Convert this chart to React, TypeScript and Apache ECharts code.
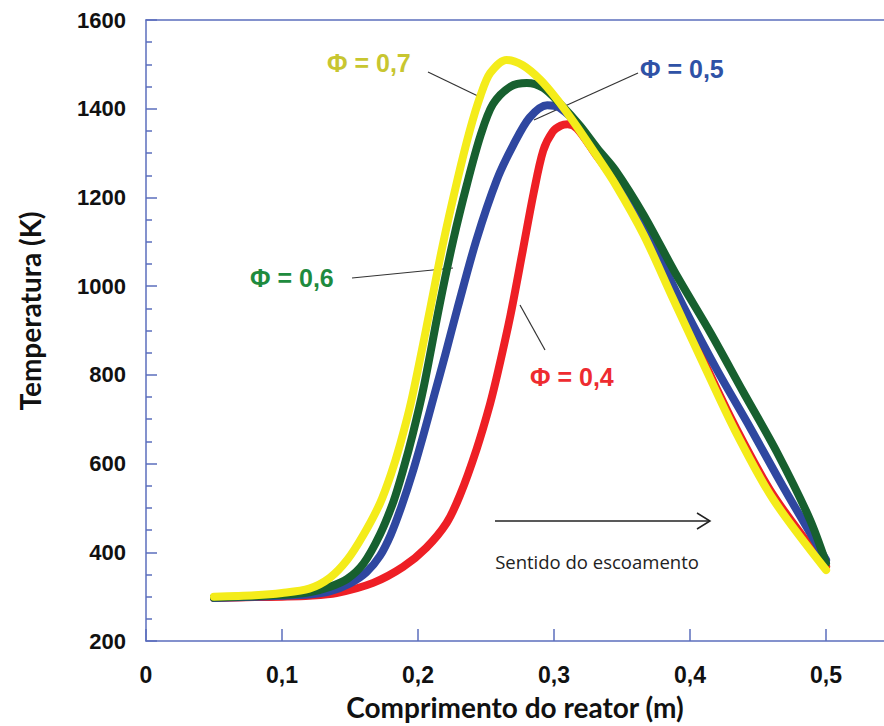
import React, { useEffect, useRef } from "react";
import * as echarts from "echarts";

// Φ = 0,7 (yellow)
const phi07X = [0.05, 0.08, 0.10, 0.12, 0.135, 0.148, 0.16, 0.172, 0.18, 0.187, 0.195, 0.209, 0.218, 0.229, 0.238, 0.246, 0.253, 0.265, 0.277, 0.290, 0.302, 0.314, 0.330, 0.345, 0.366, 0.387, 0.409, 0.433, 0.461, 0.500];
const phi07T = [300, 303, 308, 318, 342, 383, 440, 510, 575, 645, 740, 950, 1090, 1240, 1350, 1430, 1480, 1510, 1498, 1465, 1422, 1372, 1300, 1230, 1115, 975, 830, 675, 520, 360];

// Φ = 0,6 (green)
const phi06X = [0.05, 0.08, 0.10, 0.12, 0.135, 0.148, 0.16, 0.172, 0.182, 0.189, 0.196, 0.204, 0.216, 0.226, 0.236, 0.246, 0.255, 0.268, 0.280, 0.292, 0.304, 0.319, 0.332, 0.345, 0.366, 0.390, 0.415, 0.439, 0.464, 0.488, 0.500];
const phi06T = [298, 301, 304, 310, 322, 340, 375, 440, 515, 585, 665, 770, 960, 1105, 1230, 1340, 1410, 1450, 1458, 1447, 1413, 1362, 1310, 1262, 1160, 1025, 895, 762, 625, 475, 376];

// Φ = 0,5 (blue)
const phi05X = [0.05, 0.08, 0.10, 0.12, 0.135, 0.15, 0.162, 0.172, 0.18, 0.188, 0.196, 0.204, 0.212, 0.22, 0.229, 0.243, 0.258, 0.270, 0.282, 0.295, 0.304, 0.320, 0.345, 0.371, 0.395, 0.420, 0.444, 0.468, 0.500];
const phi05T = [297, 300, 302, 305, 312, 330, 355, 392, 440, 505, 580, 665, 755, 845, 950, 1105, 1240, 1318, 1380, 1408, 1402, 1355, 1240, 1104, 955, 810, 682, 550, 383];

// Φ = 0,4 (red)
const phi04X = [0.05, 0.08, 0.10, 0.12, 0.140, 0.167, 0.189, 0.206, 0.221, 0.231, 0.243, 0.253, 0.259, 0.268, 0.277, 0.285, 0.292, 0.299, 0.305, 0.310, 0.317, 0.330, 0.345, 0.366, 0.387, 0.409, 0.433, 0.461, 0.500];
const phi04T = [297, 299, 300, 302, 308, 331, 367, 410, 466, 530, 632, 735, 810, 935, 1080, 1210, 1305, 1348, 1362, 1365, 1355, 1300, 1235, 1125, 985, 838, 685, 530, 368];

const seriesNames = ["Φ = 0,4", "Φ = 0,5", "Φ = 0,6", "Φ = 0,7"];
const seriesColors = ["#ee1f25", "#2f47a0", "#17602f", "#f4ec1a"];
const labelColors = ["#ee2b30", "#2f52a6", "#1e8b3e", "#c8c630"];

const xMin = 0;
const xMax = 0.5426;
const xStep = 0.1;
const yMin = 200;
const yMax = 1600;
const yStep = 200;

const xTitle = "Comprimento do reator (m)";
const yTitle = "Temperatura (K)";
const flowText = "Sentido do escoamento";

export default function App() {
  const ref = useRef<HTMLDivElement>(null);

  useEffect(() => {
    if (!ref.current) return;
    const chart = echarts.init(ref.current, null, { renderer: "svg" });
    const pair = (xs: number[], ys: number[]) => xs.map((x, i) => [x, ys[i]]);
    const axisColor = "#5b6ebd";
    const tickFont = "Liberation Sans";
    const titleFont = "Lato";
    const dataSets = [
      pair(phi04X, phi04T),
      pair(phi05X, phi05T),
      pair(phi06X, phi06T),
      pair(phi07X, phi07T),
    ];

    chart.setOption({
      animation: false,
      backgroundColor: "#ffffff",
      grid: { left: 146, top: 20, right: 0, bottom: 85 },
      xAxis: [
        {
          type: "value",
          min: xMin,
          max: xMax,
          interval: xStep,
          position: "bottom",
          axisLine: { show: true, lineStyle: { color: axisColor, width: 1.5 } },
          axisTick: { show: true, inside: true, length: 12, lineStyle: { color: axisColor, width: 1.5 } },
          splitLine: { show: false },
          axisLabel: {
            margin: 22,
            fontFamily: tickFont,
            fontWeight: "bold",
            fontSize: 23,
            color: "#111",
            showMaxLabel: false,
            formatter: (v: number) =>
              v > 0.51 ? "" : v === 0 ? "0" : v.toFixed(1).replace(".", ","),
          },
          name: xTitle,
          nameLocation: "middle",
          nameGap: 52,
          nameTextStyle: {
            fontFamily: titleFont,
            fontWeight: "bold",
            fontSize: 28,
            color: "#111",
          },
        },
        {
          type: "value",
          min: xMin,
          max: xMax,
          position: "top",
          axisLine: { show: true, lineStyle: { color: axisColor, width: 1.5 } },
          axisTick: { show: false },
          axisLabel: { show: false },
          splitLine: { show: false },
        },
      ],
      yAxis: {
        type: "value",
        min: yMin,
        max: yMax,
        interval: yStep,
        axisLine: { show: true, lineStyle: { color: axisColor, width: 1.5 } },
        axisTick: { show: true, inside: true, length: 11, lineStyle: { color: axisColor, width: 1.5 } },
        minorTick: { show: true, splitNumber: 4, length: 6, lineStyle: { color: axisColor, width: 1.5 } },
        splitLine: { show: false },
        minorSplitLine: { show: false },
        axisLabel: {
          margin: 20,
          fontFamily: tickFont,
          fontWeight: "bold",
          fontSize: 22,
          color: "#111",
          formatter: (v: number) => String(v),
        },
      },
      series: dataSets.map((d, i) => ({
        name: seriesNames[i],
        type: "line",
        xAxisIndex: 0,
        data: d,
        showSymbol: false,
        smooth: 0.3,
        z: 2 + i,
        lineStyle: { color: seriesColors[i], width: 8, cap: "round", join: "round" },
        itemStyle: { color: seriesColors[i] },
      })),
      graphic: [
        {
          type: "text",
          x: 30,
          y: 311,
          rotation: Math.PI / 2,
          style: {
            text: yTitle,
            fontFamily: titleFont,
            fontWeight: "bold",
            fontSize: 28,
            fill: "#111",
            align: "center",
            verticalAlign: "middle",
          },
        },
        // annotations
        {
          type: "text",
          x: 327,
          y: 63,
          style: { text: seriesNames[3], fontFamily: tickFont, fontWeight: "bold", fontSize: 25, fill: labelColors[3], align: "left", verticalAlign: "middle" },
        },
        { type: "line", shape: { x1: 428, y1: 72, x2: 482, y2: 98 }, style: { stroke: "#333", lineWidth: 1.2 } },
        {
          type: "text",
          x: 640,
          y: 69,
          style: { text: seriesNames[1], fontFamily: tickFont, fontWeight: "bold", fontSize: 25, fill: labelColors[1], align: "left", verticalAlign: "middle" },
        },
        { type: "line", shape: { x1: 638, y1: 73, x2: 534, y2: 120 }, style: { stroke: "#333", lineWidth: 1.2 } },
        {
          type: "text",
          x: 250,
          y: 278,
          style: { text: seriesNames[2], fontFamily: tickFont, fontWeight: "bold", fontSize: 25, fill: labelColors[2], align: "left", verticalAlign: "middle" },
        },
        { type: "line", shape: { x1: 352, y1: 278, x2: 453, y2: 268 }, style: { stroke: "#333", lineWidth: 1.2 } },
        {
          type: "text",
          x: 530,
          y: 377,
          style: { text: seriesNames[0], fontFamily: tickFont, fontWeight: "bold", fontSize: 25, fill: labelColors[0], align: "left", verticalAlign: "middle" },
        },
        { type: "line", shape: { x1: 545, y1: 350, x2: 520, y2: 305 }, style: { stroke: "#333", lineWidth: 1.2 } },
        // flow arrow
        { type: "line", shape: { x1: 495, y1: 521, x2: 710, y2: 521 }, style: { stroke: "#222", lineWidth: 1.5 } },
        { type: "polyline", shape: { points: [[697, 513], [710, 521], [697, 529]] }, style: { stroke: "#222", lineWidth: 1.5, fill: "none" } },
        {
          type: "text",
          x: 597,
          y: 561,
          style: { text: flowText, fontFamily: "Open Sans", fontSize: 18.5, fill: "#222", align: "center", verticalAlign: "middle" },
        },
      ],
    });

    return () => chart.dispose();
  }, []);

  return (
    <div
      ref={ref}
      style={{ position: "fixed", left: 0, top: 0, width: 884, height: 726, background: "#fff" }}
    />
  );
}
